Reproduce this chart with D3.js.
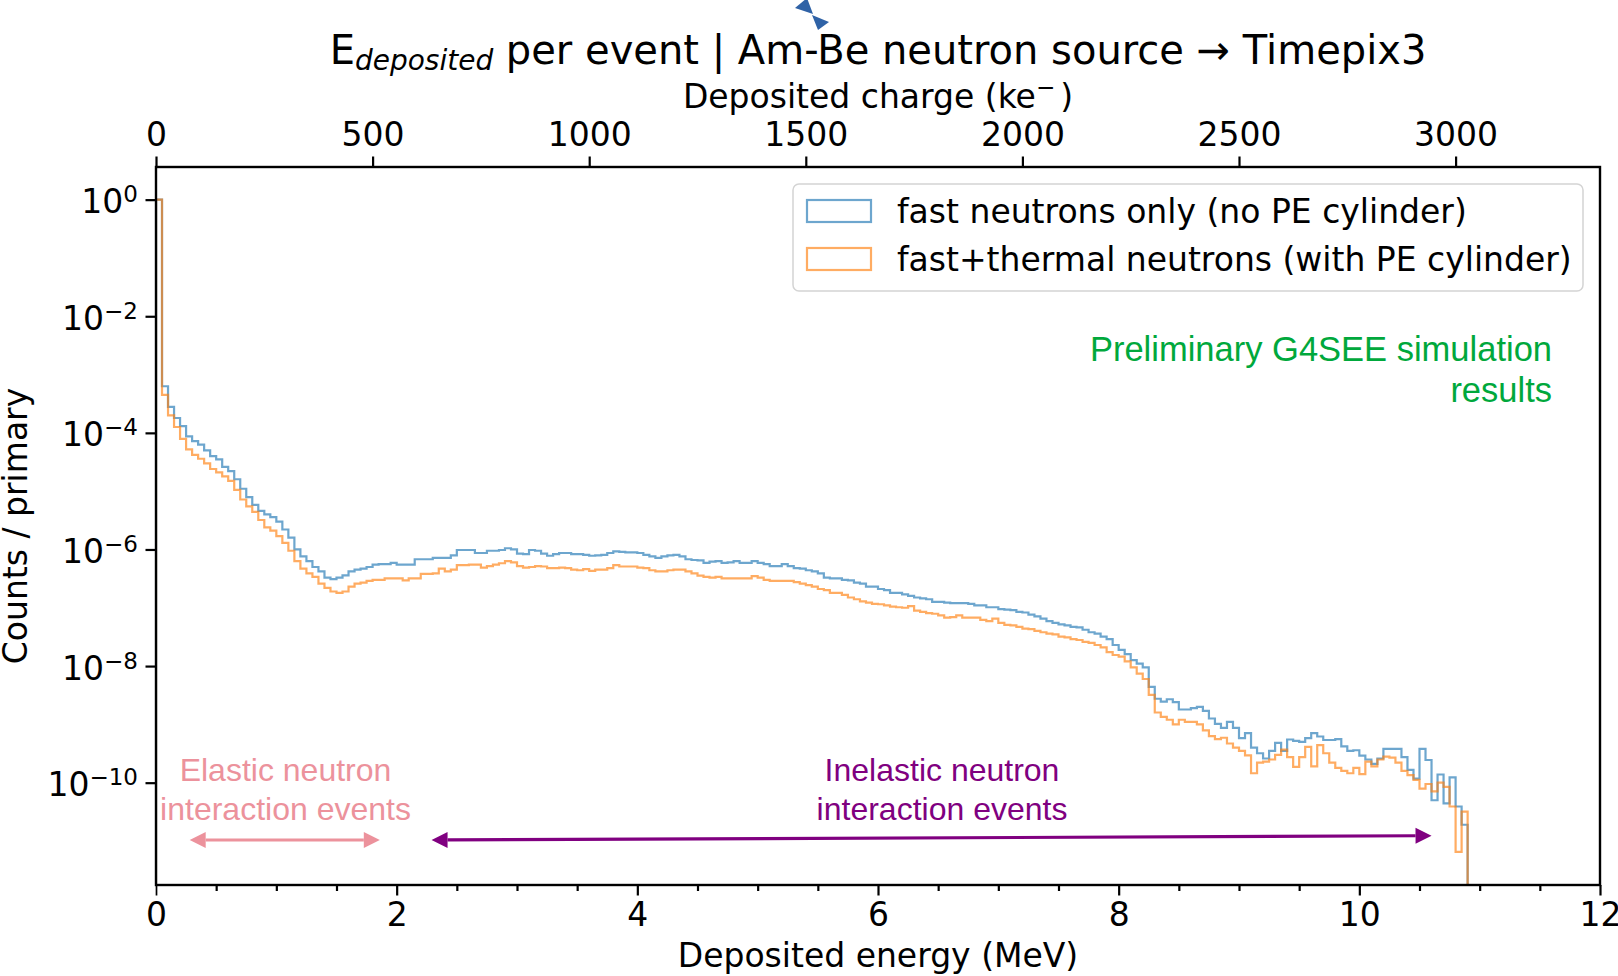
<!DOCTYPE html>
<html>
<head>
<meta charset="utf-8">
<script src="https://cdn.jsdelivr.net/npm/d3@7"></script>
<style>
	body { margin: 0; background: #fff; }
	svg { display: block; font-family: 'DejaVu Sans', sans-serif; }
	.axis text { font-size: 33px; fill: #000; font-family: 'DejaVu Sans', sans-serif; }
	.axis line { stroke: #000; }
	.note { font-family: 'Liberation Sans', Arial, sans-serif; }
</style>
</head>
<body>
<script>
// histogram bins are 0.05 MeV wide, starting at 0 MeV
const binWidth = 0.05

// counts / primary, fast neutrons only (no PE cylinder)
const fastOnly = [
	1, 6.3e-4, 2.8e-4, 1.8e-4, 1.3e-4, 8.7e-5, 7.2e-5, 6.3e-5, 5.0e-5, 4.0e-5,
	3.5e-5, 2.6e-5, 2.2e-5, 1.6e-5, 1.1e-5, 7.9e-6, 5.8e-6, 4.6e-6, 4.0e-6, 3.6e-6,
	3.0e-6, 2.2e-6, 1.6e-6, 1.0e-6, 7.6e-7, 6.3e-7, 5.0e-7, 4.2e-7, 3.3e-7, 3.1e-7,
	3.3e-7, 3.6e-7, 4.2e-7, 4.5e-7, 4.7e-7, 5.0e-7, 5.5e-7, 5.6e-7, 5.6e-7, 5.9e-7,
	5.5e-7, 5.5e-7, 5.5e-7, 6.8e-7, 6.8e-7, 6.8e-7, 7.2e-7, 7.2e-7, 7.2e-7, 7.9e-7,
	9.8e-7, 9.8e-7, 9.8e-7, 8.7e-7, 8.7e-7, 9.5e-7, 9.5e-7, 9.8e-7, 1.05e-6, 1.0e-6,
	8.5e-7, 8.3e-7, 9.8e-7, 9.5e-7, 8.5e-7, 7.8e-7, 8.3e-7, 8.7e-7, 8.7e-7, 8.3e-7,
	8.3e-7, 8.1e-7, 7.8e-7, 7.9e-7, 8.1e-7, 8.7e-7, 9.3e-7, 9.1e-7, 8.9e-7, 8.9e-7,
	8.7e-7, 8.1e-7, 7.6e-7, 7.2e-7, 7.6e-7, 7.9e-7, 8.1e-7, 7.6e-7, 6.8e-7, 6.6e-7,
	6.5e-7, 5.9e-7, 6.2e-7, 6.3e-7, 5.9e-7, 6.0e-7, 6.3e-7, 5.9e-7, 5.9e-7, 6.3e-7,
	5.9e-7, 5.6e-7, 5.2e-7, 5.2e-7, 5.6e-7, 5.2e-7, 4.8e-7, 4.7e-7, 4.4e-7, 4.2e-7,
	3.9e-7, 3.3e-7, 3.2e-7, 3.2e-7, 3.0e-7, 2.95e-7, 2.7e-7, 2.6e-7, 2.3e-7, 2.3e-7,
	2.1e-7, 2.0e-7, 1.8e-7, 1.8e-7, 1.7e-7, 1.6e-7, 1.5e-7, 1.45e-7, 1.4e-7, 1.26e-7,
	1.26e-7, 1.23e-7, 1.2e-7, 1.2e-7, 1.2e-7, 1.17e-7, 1.1e-7, 1.1e-7, 1.02e-7, 1.02e-7,
	9.5e-8, 9.3e-8, 9.1e-8, 8.5e-8, 8.3e-8, 7.6e-8, 7.1e-8, 6.5e-8, 5.9e-8, 5.5e-8,
	5.2e-8, 5.0e-8, 4.7e-8, 4.6e-8, 4.2e-8, 3.8e-8, 3.6e-8, 3.2e-8, 2.9e-8, 2.3e-8,
	1.9e-8, 1.6e-8, 1.26e-8, 1.1e-8, 9.5e-9, 4.4e-9, 2.75e-9, 2.45e-9, 2.7e-9, 2.4e-9,
	1.8e-9, 1.8e-9, 1.9e-9, 2.0e-9, 1.7e-9, 1.26e-9, 1.02e-9, 8.7e-10, 1.1e-9, 8.7e-10,
	5.8e-10, 7.1e-10, 4.0e-10, 3.2e-10, 2.6e-10, 3.5e-10, 4.8e-10, 3.5e-10, 5.5e-10, 5.2e-10,
	5.0e-10, 5.8e-10, 7.1e-10, 6.2e-10, 5.4e-10, 5.4e-10, 5.6e-10, 4.2e-10, 3.5e-10, 3.6e-10,
	2.9e-10, 2.5e-10, 2.1e-10, 2.6e-10, 3.8e-10, 3.8e-10, 3.8e-10, 2.75e-10, 1.66e-10, 1.17e-10,
	3.8e-10, 2.45e-10, 5.0e-11, 1.38e-10, 4.4e-11, 1.23e-10, 3.9e-11, 1.9e-11
]

// counts / primary, fast+thermal neutrons (with PE cylinder)
const fastThermal = [
	1, 4.5e-4, 2.0e-4, 1.26e-4, 7.9e-5, 5.2e-5, 4.2e-5, 3.6e-5, 3.0e-5, 2.4e-5,
	2.1e-5, 1.8e-5, 1.5e-5, 1.05e-5, 7.2e-6, 5.5e-6, 4.4e-6, 3.2e-6, 2.4e-6, 2.1e-6,
	1.7e-6, 1.3e-6, 9.5e-7, 6.3e-7, 4.7e-7, 3.9e-7, 3.4e-7, 2.6e-7, 2.2e-7, 1.9e-7,
	1.8e-7, 1.9e-7, 2.3e-7, 2.6e-7, 2.7e-7, 2.9e-7, 3.0e-7, 3.0e-7, 3.2e-7, 3.2e-7,
	3.2e-7, 2.95e-7, 3.2e-7, 3.2e-7, 3.8e-7, 3.8e-7, 3.9e-7, 4.7e-7, 4.2e-7, 4.5e-7,
	5.4e-7, 5.4e-7, 5.5e-7, 5.5e-7, 4.9e-7, 5.2e-7, 5.5e-7, 5.8e-7, 6.3e-7, 6.0e-7,
	5.2e-7, 4.9e-7, 5.0e-7, 5.2e-7, 5.1e-7, 4.8e-7, 4.8e-7, 4.9e-7, 4.8e-7, 4.5e-7,
	4.4e-7, 4.6e-7, 4.3e-7, 4.5e-7, 4.5e-7, 4.8e-7, 5.4e-7, 5.1e-7, 5.1e-7, 5.1e-7,
	4.9e-7, 4.8e-7, 4.4e-7, 4.2e-7, 4.2e-7, 4.4e-7, 4.5e-7, 4.5e-7, 4.2e-7, 3.9e-7,
	3.55e-7, 3.4e-7, 3.3e-7, 3.4e-7, 3.2e-7, 3.2e-7, 3.2e-7, 3.2e-7, 3.2e-7, 3.5e-7,
	3.3e-7, 3.0e-7, 2.9e-7, 2.9e-7, 2.9e-7, 2.9e-7, 2.75e-7, 2.6e-7, 2.45e-7, 2.3e-7,
	2.1e-7, 2.0e-7, 1.8e-7, 1.8e-7, 1.66e-7, 1.5e-7, 1.4e-7, 1.29e-7, 1.23e-7, 1.17e-7,
	1.15e-7, 1.1e-7, 1.05e-7, 1.02e-7, 1.0e-7, 1.07e-7, 8.9e-8, 8.5e-8, 8.1e-8, 7.9e-8,
	7.4e-8, 6.8e-8, 6.9e-8, 7.4e-8, 6.8e-8, 6.8e-8, 6.8e-8, 6.2e-8, 5.9e-8, 6.5e-8,
	5.5e-8, 5.1e-8, 5.0e-8, 4.7e-8, 4.4e-8, 4.3e-8, 4.0e-8, 3.8e-8, 3.6e-8, 3.5e-8,
	3.2e-8, 3.1e-8, 2.9e-8, 2.8e-8, 2.6e-8, 2.5e-8, 2.3e-8, 2.1e-8, 1.74e-8, 1.55e-8,
	1.45e-8, 1.2e-8, 9.5e-9, 7.4e-9, 6.0e-9, 3.2e-9, 1.6e-9, 1.35e-9, 1.2e-9, 1.0e-9,
	1.2e-9, 1.1e-9, 1.1e-9, 1.0e-9, 7.9e-10, 6.3e-10, 5.6e-10, 5.9e-10, 4.7e-10, 4.0e-10,
	3.5e-10, 2.95e-10, 1.45e-10, 2.2e-10, 2.3e-10, 2.5e-10, 3.0e-10, 3.7e-10, 2.75e-10, 1.86e-10,
	2.75e-10, 4.1e-10, 1.9e-10, 4.4e-10, 3.2e-10, 2.2e-10, 1.8e-10, 1.6e-10, 1.45e-10, 1.8e-10,
	1.4e-10, 2.3e-10, 1.9e-10, 2.5e-10, 2.8e-10, 2.7e-10, 2.2e-10, 1.6e-10, 1.35e-10, 1.12e-10,
	7.9e-11, 9.5e-11, 7.1e-11, 1.0e-10, 8.5e-11, 3.9e-11, 6.5e-12, 3.2e-11
]

const seriesNames = ['fast neutrons only (no PE cylinder)', 'fast+thermal neutrons (with PE cylinder)']
const seriesColors = ['#1f77b4', '#ff7f0e']

// tick values
const energyTicks = [0, 2, 4, 6, 8, 10, 12]
const energyMinorTicks = [0.5, 1, 1.5, 2.5, 3, 3.5, 4.5, 5, 5.5, 6.5, 7, 7.5, 8.5, 9, 9.5, 10.5, 11, 11.5]
const chargeTicks = [0, 500, 1000, 1500, 2000, 2500, 3000]
const countExponents = [0, -2, -4, -6, -8, -10]

// annotated energy ranges (MeV)
const elasticRange = [0.28, 1.86]
const inelasticRange = [2.29, 10.6]

// eV needed per electron-hole pair in silicon
const pairEnergy = 3.6

const margin = { top: 167, bottom: 91, left: 156, right: 18 }
const width = 1618 - margin.left - margin.right
const height = 976 - margin.top - margin.bottom

const svg = d3
	.select('body')
	.append('svg')
	.attr('width', 1618)
	.attr('height', 976)

const g = svg.append('g').attr('transform', `translate(${margin.left},${margin.top})`)

// scales
const xscale = d3.scaleLinear().domain([0, 12]).range([0, width])
const chargeScale = d3.scaleLinear().domain([0, 12 * 1000 / pairEnergy]).range([0, width])
const yscale = d3.scaleLog().domain([10 ** -11.755, 10 ** 0.56]).range([height, 0])

svg.append('defs')
	.append('clipPath')
	.attr('id', 'plot-clip')
	.append('rect')
	.attr('width', width)
	.attr('height', height)

// histograms drawn as step outlines
function stepPoints(values) {
	const floor = yscale.domain()[0]
	const pts = [[0, floor]]
	values.forEach((v, i) => {
		pts.push([i * binWidth, v], [(i + 1) * binWidth, v])
	})
	pts.push([values.length * binWidth, floor])
	return pts
}

const line = d3.line().x(d => xscale(d[0])).y(d => yscale(d[1]))

g.append('g')
	.attr('clip-path', 'url(#plot-clip)')
	.selectAll('path')
	.data([fastOnly, fastThermal])
	.join('path')
	.attr('d', d => line(stepPoints(d)))
	.attr('fill', 'none')
	.attr('stroke', (d, i) => seriesColors[i])
	.attr('stroke-opacity', 0.65)
	.attr('stroke-width', 2.2)

// axes
const g_xaxis = g.append('g').attr('class', 'axis').attr('transform', `translate(0,${height})`)
g_xaxis.call(d3.axisBottom(xscale).tickValues(energyTicks).tickSize(10.5).tickSizeOuter(0).tickPadding(7).tickFormat(d3.format('d')))
g_xaxis.append('g').call(d3.axisBottom(xscale).tickValues(energyMinorTicks).tickSize(6).tickSizeOuter(0).tickFormat(''))

const g_topaxis = g.append('g').attr('class', 'axis')
g_topaxis.call(d3.axisTop(chargeScale).tickValues(chargeTicks).tickSize(10.5).tickSizeOuter(0).tickPadding(11).tickFormat(d3.format('d')))

const g_yaxis = g.append('g').attr('class', 'axis')
g_yaxis.call(d3.axisLeft(yscale).tickValues(countExponents.map(e => 10 ** e)).tickSize(10.5).tickSizeOuter(0).tickFormat(''))

g.selectAll('.axis .domain').remove()
g.selectAll('.axis line').attr('stroke-width', 2.2)
g_xaxis.select('g').selectAll('line').attr('stroke-width', 1.7)

// 10^n labels
const ylabels = g_yaxis.selectAll('.exp-label')
	.data(countExponents)
	.join('text')
	.attr('class', 'exp-label')
	.attr('x', -18)
	.attr('y', d => yscale(10 ** d) + 13.5)
	.attr('text-anchor', 'end')
ylabels.append('tspan').text('10')
ylabels.append('tspan')
	.attr('dy', -11)
	.attr('font-size', 23)
	.text(d => (d < 0 ? '\u2212' + -d : d))

// frame
g.append('rect')
	.attr('width', width)
	.attr('height', height)
	.attr('fill', 'none')
	.attr('stroke', '#000')
	.attr('stroke-width', 2.4)

// axis titles
svg.append('text')
	.attr('x', margin.left + width / 2)
	.attr('y', 967)
	.attr('text-anchor', 'middle')
	.attr('font-size', 33)
	.text('Deposited energy (MeV)')

const chargeLabel = svg.append('text')
	.attr('x', margin.left + width / 2)
	.attr('y', 108)
	.attr('text-anchor', 'middle')
	.attr('font-size', 33)
chargeLabel.append('tspan').text('Deposited charge (ke')
chargeLabel.append('tspan').attr('dy', -13).attr('font-size', 23).text('\u2212')
chargeLabel.append('tspan').attr('dy', 13).attr('dx', 5).text(')')

svg.append('text')
	.attr('transform', `translate(27,${margin.top + height / 2}) rotate(-90)`)
	.attr('text-anchor', 'middle')
	.attr('font-size', 33)
	.text('Counts / primary')

// title
const title = svg.append('text')
	.attr('x', margin.left + width / 2)
	.attr('y', 64)
	.attr('text-anchor', 'middle')
	.attr('font-size', 40)
title.append('tspan').text('E')
title.append('tspan').attr('dy', 6).attr('font-size', 28).attr('font-style', 'italic').text('deposited')
title.append('tspan').attr('dy', -6).text(' per event | Am-Be neutron source \u2192 Timepix3')

// small blue marker above the title
svg.append('g')
	.attr('fill', '#2f62a6')
	.selectAll('polygon')
	.data([
		[[795, 8], [807, -2], [813, 14]],
		[[812, 15], [829, 22], [818, 30]]
	])
	.join('polygon')
	.attr('points', d => d.join(' '))

// legend
const legend = g.append('g').attr('transform', 'translate(637,17)')
legend.append('rect')
	.attr('width', 790)
	.attr('height', 107)
	.attr('rx', 6)
	.attr('fill', '#fff')
	.attr('fill-opacity', 0.8)
	.attr('stroke', '#d4d4d4')
	.attr('stroke-width', 1.5)
const items = legend.selectAll('.item')
	.data(seriesNames)
	.join('g')
	.attr('class', 'item')
	.attr('transform', (d, i) => `translate(0,${i * 48})`)
items.append('rect')
	.attr('x', 14)
	.attr('y', 16)
	.attr('width', 64)
	.attr('height', 22)
	.attr('fill', 'none')
	.attr('stroke', (d, i) => seriesColors[i])
	.attr('stroke-opacity', 0.65)
	.attr('stroke-width', 2.2)
items.append('text')
	.attr('x', 104)
	.attr('y', 38.5)
	.attr('font-size', 33)
	.text(d => d)

// notes
const prelim = g.append('text')
	.attr('class', 'note')
	.attr('text-anchor', 'end')
	.attr('font-size', 34.5)
	.attr('fill', '#00a83c')
prelim.append('tspan').attr('x', 1396).attr('y', 194).text('Preliminary G4SEE simulation')
prelim.append('tspan').attr('x', 1396).attr('y', 235).text('results')

function note(lines, cx, color) {
	const t = g.append('text')
		.attr('class', 'note')
		.attr('text-anchor', 'middle')
		.attr('font-size', 32)
		.attr('fill', color)
	lines.forEach((s, i) => {
		t.append('tspan').attr('x', cx).attr('y', 614 + i * 39).text(s)
	})
}
note(['Elastic neutron', 'interaction events'], 129.5, '#ec929c')
note(['Inelastic neutron', 'interaction events'], 786, '#800080')

function doubleArrow(range, y0, y1, color) {
	const x0 = xscale(range[0])
	const x1 = xscale(range[1])
	const len = Math.hypot(x1 - x0, y1 - y0)
	const ux = (x1 - x0) / len
	const uy = (y1 - y0) / len
	const hl = 16
	const hw = 8
	const a = g.append('g').attr('fill', color).attr('stroke', color)
	a.append('line')
		.attr('x1', x0 + ux * hl)
		.attr('y1', y0 + uy * hl)
		.attr('x2', x1 - ux * hl)
		.attr('y2', y1 - uy * hl)
		.attr('stroke-width', 3.2)
	const head = (tx, ty, dir) => {
		const bx = tx - dir * ux * hl
		const by = ty - dir * uy * hl
		return [[tx, ty], [bx - uy * hw, by + ux * hw], [bx + uy * hw, by - ux * hw]]
	}
	a.selectAll('polygon')
		.data([head(x0, y0, -1), head(x1, y1, 1)])
		.join('polygon')
		.attr('stroke', 'none')
		.attr('points', d => d.join(' '))
}
doubleArrow(elasticRange, 673, 673, '#ec929c')
doubleArrow(inelasticRange, 673, 668.7, '#800080')
</script>
</body>
</html>
